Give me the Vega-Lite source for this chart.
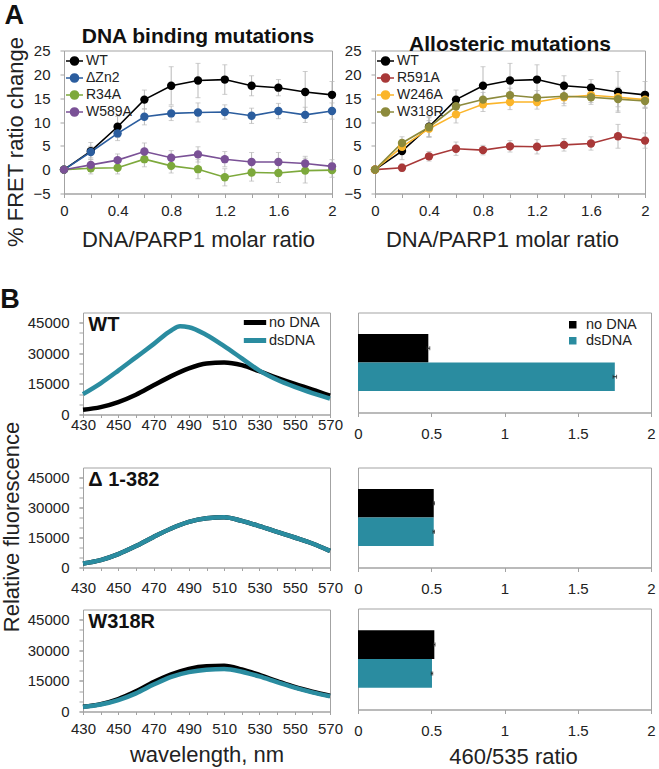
{
  "$schema": "https://vega.github.io/schema/vega-lite/v6.json",
  "padding": {"left": 0, "top": 1.5, "right": 2, "bottom": 2},
  "background": "white",
  "config": {
    "font": "Liberation Sans",
    "view": {"stroke": "#a3a3a3"},
    "axis": {"grid": false, "domainColor": "#a3a3a3", "tickColor": "#a3a3a3", "labelColor": "#222222", "titleColor": "#222222", "labelFontSize": 15, "titleFontSize": 22, "titleFontWeight": "normal", "labelFlush": false, "tickSize": 4},
    "legend": {"labelColor": "#222222", "labelFontSize": 14},
    "title": {"color": "#111111"}
  },
  "datasets": {
    "fretA": [
      {"series": "WT", "ratio": 0, "pct": 0, "err": 0},
      {"series": "WT", "ratio": 0.2, "pct": 3.9, "err": 1.8},
      {"series": "WT", "ratio": 0.4, "pct": 9.0, "err": 2.2},
      {"series": "WT", "ratio": 0.6, "pct": 14.7, "err": 2.0},
      {"series": "WT", "ratio": 0.8, "pct": 17.6, "err": 4.0},
      {"series": "WT", "ratio": 1.0, "pct": 18.7, "err": 3.6},
      {"series": "WT", "ratio": 1.2, "pct": 18.9, "err": 3.1},
      {"series": "WT", "ratio": 1.4, "pct": 17.6, "err": 2.1},
      {"series": "WT", "ratio": 1.6, "pct": 17.2, "err": 1.7},
      {"series": "WT", "ratio": 1.8, "pct": 16.3, "err": 4.3},
      {"series": "WT", "ratio": 2.0, "pct": 15.7, "err": 2.8},
      {"series": "ΔZn2", "ratio": 0, "pct": 0, "err": 0},
      {"series": "ΔZn2", "ratio": 0.2, "pct": 3.7, "err": 1.2},
      {"series": "ΔZn2", "ratio": 0.4, "pct": 7.6, "err": 1.5},
      {"series": "ΔZn2", "ratio": 0.6, "pct": 11.1, "err": 1.7},
      {"series": "ΔZn2", "ratio": 0.8, "pct": 11.8, "err": 1.5},
      {"series": "ΔZn2", "ratio": 1.0, "pct": 12.0, "err": 2.0},
      {"series": "ΔZn2", "ratio": 1.2, "pct": 12.1, "err": 1.5},
      {"series": "ΔZn2", "ratio": 1.4, "pct": 11.3, "err": 1.6},
      {"series": "ΔZn2", "ratio": 1.6, "pct": 12.3, "err": 1.6},
      {"series": "ΔZn2", "ratio": 1.8, "pct": 11.5, "err": 1.6},
      {"series": "ΔZn2", "ratio": 2.0, "pct": 12.3, "err": 1.7},
      {"series": "R34A", "ratio": 0, "pct": 0, "err": 0},
      {"series": "R34A", "ratio": 0.2, "pct": 0.3, "err": 1.2},
      {"series": "R34A", "ratio": 0.4, "pct": 0.4, "err": 1.3},
      {"series": "R34A", "ratio": 0.6, "pct": 2.2, "err": 1.6},
      {"series": "R34A", "ratio": 0.8, "pct": 0.8, "err": 1.5},
      {"series": "R34A", "ratio": 1.0, "pct": 0.1, "err": 2.0},
      {"series": "R34A", "ratio": 1.2, "pct": -1.6, "err": 1.8},
      {"series": "R34A", "ratio": 1.4, "pct": -0.6, "err": 1.8},
      {"series": "R34A", "ratio": 1.6, "pct": -0.7, "err": 2.0},
      {"series": "R34A", "ratio": 1.8, "pct": -0.2, "err": 2.6},
      {"series": "R34A", "ratio": 2.0, "pct": -0.1, "err": 1.5},
      {"series": "W589A", "ratio": 0, "pct": 0, "err": 0},
      {"series": "W589A", "ratio": 0.2, "pct": 1.0, "err": 1.2},
      {"series": "W589A", "ratio": 0.4, "pct": 2.0, "err": 1.3},
      {"series": "W589A", "ratio": 0.6, "pct": 3.8, "err": 1.8},
      {"series": "W589A", "ratio": 0.8, "pct": 2.5, "err": 1.5},
      {"series": "W589A", "ratio": 1.0, "pct": 3.2, "err": 1.6},
      {"series": "W589A", "ratio": 1.2, "pct": 2.2, "err": 1.6},
      {"series": "W589A", "ratio": 1.4, "pct": 1.6, "err": 2.0},
      {"series": "W589A", "ratio": 1.6, "pct": 1.6, "err": 2.0},
      {"series": "W589A", "ratio": 1.8, "pct": 1.3, "err": 1.5},
      {"series": "W589A", "ratio": 2.0, "pct": 0.7, "err": 1.4}
    ],
    "fretB": [
      {"series": "WT", "ratio": 0, "pct": 0, "err": 0},
      {"series": "WT", "ratio": 0.2, "pct": 3.9, "err": 1.8},
      {"series": "WT", "ratio": 0.4, "pct": 9.0, "err": 2.2},
      {"series": "WT", "ratio": 0.6, "pct": 14.7, "err": 2.0},
      {"series": "WT", "ratio": 0.8, "pct": 17.6, "err": 4.0},
      {"series": "WT", "ratio": 1.0, "pct": 18.7, "err": 3.6},
      {"series": "WT", "ratio": 1.2, "pct": 18.9, "err": 3.1},
      {"series": "WT", "ratio": 1.4, "pct": 17.6, "err": 2.1},
      {"series": "WT", "ratio": 1.6, "pct": 17.2, "err": 1.7},
      {"series": "WT", "ratio": 1.8, "pct": 16.3, "err": 4.3},
      {"series": "WT", "ratio": 2.0, "pct": 15.7, "err": 2.8},
      {"series": "R591A", "ratio": 0, "pct": 0, "err": 0},
      {"series": "R591A", "ratio": 0.2, "pct": 0.4, "err": 0.8},
      {"series": "R591A", "ratio": 0.4, "pct": 2.8, "err": 1.0},
      {"series": "R591A", "ratio": 0.6, "pct": 4.4, "err": 1.4},
      {"series": "R591A", "ratio": 0.8, "pct": 4.1, "err": 1.0},
      {"series": "R591A", "ratio": 1.0, "pct": 4.9, "err": 1.2},
      {"series": "R591A", "ratio": 1.2, "pct": 4.8, "err": 1.5},
      {"series": "R591A", "ratio": 1.4, "pct": 5.2, "err": 1.3},
      {"series": "R591A", "ratio": 1.6, "pct": 5.5, "err": 1.4},
      {"series": "R591A", "ratio": 1.8, "pct": 7.0, "err": 2.5},
      {"series": "R591A", "ratio": 2.0, "pct": 6.1, "err": 1.6},
      {"series": "W246A", "ratio": 0, "pct": 0, "err": 0},
      {"series": "W246A", "ratio": 0.2, "pct": 4.8, "err": 1.5},
      {"series": "W246A", "ratio": 0.4, "pct": 8.6, "err": 1.7},
      {"series": "W246A", "ratio": 0.6, "pct": 11.6, "err": 1.8},
      {"series": "W246A", "ratio": 0.8, "pct": 13.7, "err": 1.5},
      {"series": "W246A", "ratio": 1.0, "pct": 14.2, "err": 1.6},
      {"series": "W246A", "ratio": 1.2, "pct": 14.2, "err": 1.5},
      {"series": "W246A", "ratio": 1.4, "pct": 15.2, "err": 1.8},
      {"series": "W246A", "ratio": 1.6, "pct": 15.6, "err": 1.5},
      {"series": "W246A", "ratio": 1.8, "pct": 15.2, "err": 2.0},
      {"series": "W246A", "ratio": 2.0, "pct": 14.7, "err": 1.6},
      {"series": "W318R", "ratio": 0, "pct": 0, "err": 0},
      {"series": "W318R", "ratio": 0.2, "pct": 5.6, "err": 1.3},
      {"series": "W318R", "ratio": 0.4, "pct": 8.9, "err": 2.0},
      {"series": "W318R", "ratio": 0.6, "pct": 13.3, "err": 1.6},
      {"series": "W318R", "ratio": 0.8, "pct": 14.7, "err": 1.5},
      {"series": "W318R", "ratio": 1.0, "pct": 15.6, "err": 1.5},
      {"series": "W318R", "ratio": 1.2, "pct": 15.1, "err": 1.5},
      {"series": "W318R", "ratio": 1.4, "pct": 15.4, "err": 1.5},
      {"series": "W318R", "ratio": 1.6, "pct": 15.2, "err": 1.5},
      {"series": "W318R", "ratio": 1.8, "pct": 14.8, "err": 2.5},
      {"series": "W318R", "ratio": 2.0, "pct": 14.4, "err": 1.5}
    ],
    "spec": [
      {"panel": "WT", "cond": "no DNA", "nm": 430, "fl": 2300},
      {"panel": "WT", "cond": "no DNA", "nm": 440, "fl": 3600},
      {"panel": "WT", "cond": "no DNA", "nm": 450, "fl": 6100},
      {"panel": "WT", "cond": "no DNA", "nm": 460, "fl": 9700},
      {"panel": "WT", "cond": "no DNA", "nm": 470, "fl": 14300},
      {"panel": "WT", "cond": "no DNA", "nm": 480, "fl": 18800},
      {"panel": "WT", "cond": "no DNA", "nm": 490, "fl": 22600},
      {"panel": "WT", "cond": "no DNA", "nm": 500, "fl": 25000},
      {"panel": "WT", "cond": "no DNA", "nm": 510, "fl": 25500},
      {"panel": "WT", "cond": "no DNA", "nm": 520, "fl": 24200},
      {"panel": "WT", "cond": "no DNA", "nm": 530, "fl": 21200},
      {"panel": "WT", "cond": "no DNA", "nm": 540, "fl": 18000},
      {"panel": "WT", "cond": "no DNA", "nm": 550, "fl": 15000},
      {"panel": "WT", "cond": "no DNA", "nm": 560, "fl": 12200},
      {"panel": "WT", "cond": "no DNA", "nm": 570, "fl": 9200},
      {"panel": "WT", "cond": "dsDNA", "nm": 430, "fl": 10000},
      {"panel": "WT", "cond": "dsDNA", "nm": 440, "fl": 15300},
      {"panel": "WT", "cond": "dsDNA", "nm": 450, "fl": 21500},
      {"panel": "WT", "cond": "dsDNA", "nm": 460, "fl": 28000},
      {"panel": "WT", "cond": "dsDNA", "nm": 470, "fl": 34500},
      {"panel": "WT", "cond": "dsDNA", "nm": 480, "fl": 41200},
      {"panel": "WT", "cond": "dsDNA", "nm": 485, "fl": 43200},
      {"panel": "WT", "cond": "dsDNA", "nm": 490, "fl": 42800},
      {"panel": "WT", "cond": "dsDNA", "nm": 500, "fl": 39000},
      {"panel": "WT", "cond": "dsDNA", "nm": 510, "fl": 33500},
      {"panel": "WT", "cond": "dsDNA", "nm": 520, "fl": 27500},
      {"panel": "WT", "cond": "dsDNA", "nm": 530, "fl": 21500},
      {"panel": "WT", "cond": "dsDNA", "nm": 540, "fl": 17000},
      {"panel": "WT", "cond": "dsDNA", "nm": 550, "fl": 13500},
      {"panel": "WT", "cond": "dsDNA", "nm": 560, "fl": 10500},
      {"panel": "WT", "cond": "dsDNA", "nm": 570, "fl": 7800},
      {"panel": "D", "cond": "no DNA", "nm": 430, "fl": 2000},
      {"panel": "D", "cond": "no DNA", "nm": 440, "fl": 3700},
      {"panel": "D", "cond": "no DNA", "nm": 450, "fl": 6700},
      {"panel": "D", "cond": "no DNA", "nm": 460, "fl": 10700},
      {"panel": "D", "cond": "no DNA", "nm": 470, "fl": 15300},
      {"panel": "D", "cond": "no DNA", "nm": 480, "fl": 19500},
      {"panel": "D", "cond": "no DNA", "nm": 490, "fl": 22800},
      {"panel": "D", "cond": "no DNA", "nm": 500, "fl": 24600},
      {"panel": "D", "cond": "no DNA", "nm": 510, "fl": 25100},
      {"panel": "D", "cond": "no DNA", "nm": 520, "fl": 23300},
      {"panel": "D", "cond": "no DNA", "nm": 530, "fl": 20700},
      {"panel": "D", "cond": "no DNA", "nm": 540, "fl": 17800},
      {"panel": "D", "cond": "no DNA", "nm": 550, "fl": 15000},
      {"panel": "D", "cond": "no DNA", "nm": 560, "fl": 12000},
      {"panel": "D", "cond": "no DNA", "nm": 570, "fl": 8300},
      {"panel": "D", "cond": "dsDNA", "nm": 430, "fl": 2000},
      {"panel": "D", "cond": "dsDNA", "nm": 440, "fl": 3700},
      {"panel": "D", "cond": "dsDNA", "nm": 450, "fl": 6700},
      {"panel": "D", "cond": "dsDNA", "nm": 460, "fl": 10700},
      {"panel": "D", "cond": "dsDNA", "nm": 470, "fl": 15300},
      {"panel": "D", "cond": "dsDNA", "nm": 480, "fl": 19500},
      {"panel": "D", "cond": "dsDNA", "nm": 490, "fl": 22800},
      {"panel": "D", "cond": "dsDNA", "nm": 500, "fl": 24600},
      {"panel": "D", "cond": "dsDNA", "nm": 510, "fl": 25100},
      {"panel": "D", "cond": "dsDNA", "nm": 520, "fl": 23300},
      {"panel": "D", "cond": "dsDNA", "nm": 530, "fl": 20700},
      {"panel": "D", "cond": "dsDNA", "nm": 540, "fl": 17800},
      {"panel": "D", "cond": "dsDNA", "nm": 550, "fl": 15000},
      {"panel": "D", "cond": "dsDNA", "nm": 560, "fl": 12000},
      {"panel": "D", "cond": "dsDNA", "nm": 570, "fl": 8300},
      {"panel": "W318R", "cond": "no DNA", "nm": 430, "fl": 2300},
      {"panel": "W318R", "cond": "no DNA", "nm": 440, "fl": 3600},
      {"panel": "W318R", "cond": "no DNA", "nm": 450, "fl": 6100},
      {"panel": "W318R", "cond": "no DNA", "nm": 460, "fl": 9900},
      {"panel": "W318R", "cond": "no DNA", "nm": 470, "fl": 14400},
      {"panel": "W318R", "cond": "no DNA", "nm": 480, "fl": 18200},
      {"panel": "W318R", "cond": "no DNA", "nm": 490, "fl": 20900},
      {"panel": "W318R", "cond": "no DNA", "nm": 500, "fl": 22200},
      {"panel": "W318R", "cond": "no DNA", "nm": 510, "fl": 22400},
      {"panel": "W318R", "cond": "no DNA", "nm": 520, "fl": 20600},
      {"panel": "W318R", "cond": "no DNA", "nm": 530, "fl": 17900},
      {"panel": "W318R", "cond": "no DNA", "nm": 540, "fl": 14900},
      {"panel": "W318R", "cond": "no DNA", "nm": 550, "fl": 12000},
      {"panel": "W318R", "cond": "no DNA", "nm": 560, "fl": 9700},
      {"panel": "W318R", "cond": "no DNA", "nm": 570, "fl": 7700},
      {"panel": "W318R", "cond": "dsDNA", "nm": 430, "fl": 2200},
      {"panel": "W318R", "cond": "dsDNA", "nm": 440, "fl": 3400},
      {"panel": "W318R", "cond": "dsDNA", "nm": 450, "fl": 5600},
      {"panel": "W318R", "cond": "dsDNA", "nm": 460, "fl": 8900},
      {"panel": "W318R", "cond": "dsDNA", "nm": 470, "fl": 13200},
      {"panel": "W318R", "cond": "dsDNA", "nm": 480, "fl": 17000},
      {"panel": "W318R", "cond": "dsDNA", "nm": 490, "fl": 19300},
      {"panel": "W318R", "cond": "dsDNA", "nm": 500, "fl": 20500},
      {"panel": "W318R", "cond": "dsDNA", "nm": 510, "fl": 20800},
      {"panel": "W318R", "cond": "dsDNA", "nm": 520, "fl": 19500},
      {"panel": "W318R", "cond": "dsDNA", "nm": 530, "fl": 17200},
      {"panel": "W318R", "cond": "dsDNA", "nm": 540, "fl": 14400},
      {"panel": "W318R", "cond": "dsDNA", "nm": 550, "fl": 11700},
      {"panel": "W318R", "cond": "dsDNA", "nm": 560, "fl": 9400},
      {"panel": "W318R", "cond": "dsDNA", "nm": 570, "fl": 7500}
    ],
    "ratio": [
      {"panel": "WT", "cond": "no DNA", "val": 0.48, "err": 0.01},
      {"panel": "WT", "cond": "dsDNA", "val": 1.753, "err": 0.012},
      {"panel": "D", "cond": "no DNA", "val": 0.517, "err": 0.005},
      {"panel": "D", "cond": "dsDNA", "val": 0.517, "err": 0.005},
      {"panel": "W318R", "cond": "no DNA", "val": 0.521, "err": 0.005},
      {"panel": "W318R", "cond": "dsDNA", "val": 0.505, "err": 0.005}
    ]
  },
  "bounds": "flush",
  "spacing": 262,
  "resolve": {"scale": {"x": "independent", "y": "independent", "color": "independent"}, "legend": {"color": "independent"}},
  "vconcat": [
    {
      "title": {"text": "A", "anchor": "start", "frame": "bounds", "fontSize": 27, "fontWeight": "bold", "baseline": "alphabetic", "offset": -25.5, "color": "#111111"},
      "bounds": "flush",
      "spacing": 43,
      "resolve": {"scale": {"x": "independent", "y": "independent", "color": "independent"}, "legend": {"color": "independent"}},
      "hconcat": [
        {
          "width": 268, "height": 143,
          "title": {"text": "DNA binding mutations", "frame": "group", "anchor": "middle", "baseline": "alphabetic", "offset": -28, "fontSize": 21, "fontWeight": "bold"},
          "data": {"name": "fretA"},
          "encoding": {
            "x": {"field": "ratio", "type": "quantitative", "scale": {"domain": [0, 2], "nice": false, "zero": false},
                  "axis": {"values": [0, 0.2, 0.4, 0.6, 0.8, 1, 1.2, 1.4, 1.6, 1.8, 2], "labelExpr": "round(datum.value*10) % 4 == 0 ? format(datum.value, '~g') : ''", "title": "DNA/PARP1 molar ratio", "labelPadding": 6, "titlePadding": 11}},
            "y": {"field": "pct", "type": "quantitative", "scale": {"domain": [-5, 25], "nice": false, "zero": false},
                  "axis": {"values": [-5, 0, 5, 10, 15, 20, 25], "title": "% FRET ratio change", "labelPadding": 10, "titlePadding": 5, "titleY": 91}}
          },
          "layer": [
            {"mark": {"type": "errorbar", "ticks": true, "size": 5, "thickness": 1, "color": "#b9b9b9"}, "encoding": {"yError": {"field": "err"}}},
            {"mark": {"type": "line", "strokeWidth": 1.6},
             "encoding": {"color": {"field": "series", "type": "nominal", "sort": null,
                      "scale": {"domain": ["WT", "ΔZn2", "R34A", "W589A"], "range": ["#000000", "#2b5d9e", "#7da93c", "#7a5196"]},
                      "legend": {"orient": "top-left", "title": null, "offset": 1, "padding": 0, "symbolType": "M-1,0H1M0.47,0A0.47,0.47,0,1,1,-0.47,0A0.47,0.47,0,1,1,0.47,0Z", "symbolSize": 289, "symbolStrokeWidth": 1.6, "labelFontSize": 14, "labelOffset": 2, "rowPadding": -5.3}}}},
            {"mark": {"type": "point", "filled": true, "size": 70, "opacity": 1},
             "encoding": {"color": {"field": "series", "type": "nominal", "sort": null,
                      "scale": {"domain": ["WT", "ΔZn2", "R34A", "W589A"], "range": ["#000000", "#2b5d9e", "#7da93c", "#7a5196"]}}}}
          ]
        },
        {
          "width": 270, "height": 143,
          "title": {"text": "Allosteric mutations", "frame": "group", "anchor": "middle", "baseline": "alphabetic", "offset": -28, "fontSize": 21, "fontWeight": "bold"},
          "data": {"name": "fretB"},
          "encoding": {
            "x": {"field": "ratio", "type": "quantitative", "scale": {"domain": [0, 2], "nice": false, "zero": false},
                  "axis": {"values": [0, 0.2, 0.4, 0.6, 0.8, 1, 1.2, 1.4, 1.6, 1.8, 2], "labelExpr": "round(datum.value*10) % 4 == 0 ? format(datum.value, '~g') : ''", "title": "DNA/PARP1 molar ratio", "labelPadding": 6, "titlePadding": 11, "titleX": 127}},
            "y": {"field": "pct", "type": "quantitative", "scale": {"domain": [-5, 25], "nice": false, "zero": false},
                  "axis": {"values": [-5, 0, 5, 10, 15, 20, 25], "title": null, "labelPadding": 10}}
          },
          "layer": [
            {"mark": {"type": "errorbar", "ticks": true, "size": 5, "thickness": 1, "color": "#b9b9b9"}, "encoding": {"yError": {"field": "err"}}},
            {"mark": {"type": "line", "strokeWidth": 1.6},
             "encoding": {"color": {"field": "series", "type": "nominal", "sort": null,
                      "scale": {"domain": ["WT", "R591A", "W246A", "W318R"], "range": ["#000000", "#a83838", "#fbb52a", "#8c8a3c"]},
                      "legend": {"orient": "top-left", "title": null, "offset": 1, "padding": 0, "symbolType": "M-1,0H1M0.47,0A0.47,0.47,0,1,1,-0.47,0A0.47,0.47,0,1,1,0.47,0Z", "symbolSize": 289, "symbolStrokeWidth": 1.6, "labelFontSize": 14, "labelOffset": 2, "rowPadding": -5.3}}}},
            {"mark": {"type": "point", "filled": true, "size": 70, "opacity": 1},
             "encoding": {"color": {"field": "series", "type": "nominal", "sort": null,
                      "scale": {"domain": ["WT", "R591A", "W246A", "W318R"], "range": ["#000000", "#a83838", "#fbb52a", "#8c8a3c"]}}}}
          ]
        }
      ]
    },
    {
      "title": {"text": "B", "anchor": "start", "frame": "bounds", "fontSize": 27, "fontWeight": "bold", "baseline": "alphabetic", "offset": -23, "color": "#111111"},
      "bounds": "flush",
      "spacing": 18,
      "resolve": {"scale": {"x": "independent", "y": "independent", "color": "independent"}, "legend": {"color": "independent"}},
      "hconcat": [
        {"width": 1, "height": 1, "view": {"stroke": null}, "data": {"values": []}, "mark": "point"},
        {
          "bounds": "flush",
          "spacing": 275,
          "resolve": {"scale": {"x": "independent", "y": "independent", "color": "independent"}, "legend": {"color": "independent"}},
          "hconcat": [
            {
              "bounds": "flush",
              "spacing": 53,
              "resolve": {"scale": {"x": "independent", "y": "independent", "color": "independent"}, "legend": {"color": "independent"}},
              "vconcat": [
                {
                  "width": 247, "height": 102,
                  "resolve": {"axis": {"x": "independent", "y": "independent"}},
                  "layer": [
                    {
                      "data": {"name": "spec"},
                      "transform": [{"filter": "datum.panel == 'WT'"}],
                      "mark": {"type": "point", "opacity": 0},
                      "encoding": {
                        "x": {"field": "nm", "type": "quantitative", "scale": {"domain": [430, 570], "nice": false, "zero": false},
                              "axis": {"orient": "bottom", "values": [430, 440, 450, 460, 470, 480, 490, 500, 510, 520, 530, 540, 550, 560, 570], "labels": false, "domain": false, "tickSize": 3, "title": null}},
                        "y": {"field": "fl", "type": "quantitative", "scale": {"domain": [0, 50000], "nice": false},
                              "axis": {"orient": "left", "values": [0, 5000, 10000, 15000, 20000, 25000, 30000, 35000, 40000, 45000], "labels": false, "domain": false, "tickSize": 4, "title": null}}
                      }
                    },
                    {
                      "data": {"name": "spec"},
                      "transform": [{"filter": "datum.panel == 'WT'"}],
                      "mark": {"type": "line", "strokeWidth": 4.5, "interpolate": "monotone"},
                      "encoding": {
                        "x": {"field": "nm", "type": "quantitative", "scale": {"domain": [430, 570], "nice": false, "zero": false},
                              "axis": {"orient": "bottom", "values": [430, 450, 470, 490, 510, 530, 550, 570], "format": "d", "title": null, "tickSize": 3, "labelPadding": 0}},
                        "y": {"field": "fl", "type": "quantitative", "scale": {"domain": [0, 50000], "nice": false},
                              "axis": {"orient": "left", "values": [0, 15000, 30000, 45000], "format": "d", "title": null, "labelPadding": 10}},
                        "color": {"field": "cond", "type": "nominal", "sort": null,
                                  "scale": {"domain": ["no DNA", "dsDNA"], "range": ["#000000", "#2a8ca0"]},
                                  "legend": {"orient": "none", "legendX": 158, "legendY": 1, "title": null, "padding": 0, "symbolType": "M-1,0H1", "symbolSize": 500, "symbolStrokeWidth": 5, "labelFontSize": 14.5, "labelOffset": 0, "clipHeight": 18, "rowPadding": 0}}
                      }
                    },
                    {
                      "data": {"values": [{"label": "WT"}]},
                      "mark": {"type": "text", "fontSize": 20, "fontWeight": "bold", "align": "left", "baseline": "alphabetic", "color": "#111111"},
                      "encoding": {"x": {"datum": 433, "axis": null}, "y": {"datum": 41000, "axis": null}, "text": {"field": "label"}}
                    }
                  ]
                },
                {
                  "bounds": "flush",
                  "spacing": 42,
                  "resolve": {"scale": {"x": "independent", "y": "independent", "color": "independent"}, "legend": {"color": "independent"}},
                  "vconcat": [
                    {
                      "width": 247, "height": 100,
                      "resolve": {"axis": {"x": "independent", "y": "independent"}},
                      "layer": [
                        {
                          "data": {"name": "spec"},
                          "transform": [{"filter": "datum.panel == 'D'"}],
                          "mark": {"type": "point", "opacity": 0},
                          "encoding": {
                            "x": {"field": "nm", "type": "quantitative", "scale": {"domain": [430, 570], "nice": false, "zero": false},
                                  "axis": {"orient": "bottom", "values": [430, 440, 450, 460, 470, 480, 490, 500, 510, 520, 530, 540, 550, 560, 570], "labels": false, "domain": false, "tickSize": 3, "title": null}},
                            "y": {"field": "fl", "type": "quantitative", "scale": {"domain": [0, 50000], "nice": false},
                                  "axis": {"orient": "left", "values": [0, 5000, 10000, 15000, 20000, 25000, 30000, 35000, 40000, 45000], "labels": false, "domain": false, "tickSize": 4, "title": null}}
                          }
                        },
                        {
                          "data": {"name": "spec"},
                          "transform": [{"filter": "datum.panel == 'D'"}],
                          "mark": {"type": "line", "strokeWidth": 4.5, "interpolate": "monotone"},
                          "encoding": {
                            "x": {"field": "nm", "type": "quantitative", "scale": {"domain": [430, 570], "nice": false, "zero": false},
                                  "axis": {"orient": "bottom", "values": [430, 450, 470, 490, 510, 530, 550, 570], "format": "d", "title": null, "tickSize": 3, "labelPadding": 9.7}},
                            "y": {"field": "fl", "type": "quantitative", "scale": {"domain": [0, 50000], "nice": false},
                                  "axis": {"orient": "left", "values": [0, 15000, 30000, 45000], "format": "d", "title": "Relative fluorescence", "titleY": 59, "titlePadding": 3.5, "labelPadding": 10}},
                            "color": {"field": "cond", "type": "nominal", "sort": null,
                                      "scale": {"domain": ["no DNA", "dsDNA"], "range": ["#000000", "#2a8ca0"]},
                                      "legend": null}
                          }
                        },
                        {
                          "data": {"values": [{"label": "Δ 1-382"}]},
                          "mark": {"type": "text", "fontSize": 20, "fontWeight": "bold", "align": "left", "baseline": "alphabetic", "color": "#111111"},
                          "encoding": {"x": {"datum": 433, "axis": null}, "y": {"datum": 41000, "axis": null}, "text": {"field": "label"}}
                        }
                      ]
                    },
                    {
                      "width": 247, "height": 102,
                      "resolve": {"axis": {"x": "independent", "y": "independent"}},
                      "layer": [
                        {
                          "data": {"name": "spec"},
                          "transform": [{"filter": "datum.panel == 'W318R'"}],
                          "mark": {"type": "point", "opacity": 0},
                          "encoding": {
                            "x": {"field": "nm", "type": "quantitative", "scale": {"domain": [430, 570], "nice": false, "zero": false},
                                  "axis": {"orient": "bottom", "values": [430, 440, 450, 460, 470, 480, 490, 500, 510, 520, 530, 540, 550, 560, 570], "labels": false, "domain": false, "tickSize": 3, "title": null}},
                            "y": {"field": "fl", "type": "quantitative", "scale": {"domain": [0, 50000], "nice": false},
                                  "axis": {"orient": "left", "values": [0, 5000, 10000, 15000, 20000, 25000, 30000, 35000, 40000, 45000], "labels": false, "domain": false, "tickSize": 4, "title": null}}
                          }
                        },
                        {
                          "data": {"name": "spec"},
                          "transform": [{"filter": "datum.panel == 'W318R'"}],
                          "mark": {"type": "line", "strokeWidth": 4.5, "interpolate": "monotone"},
                          "encoding": {
                            "x": {"field": "nm", "type": "quantitative", "scale": {"domain": [430, 570], "nice": false, "zero": false},
                                  "axis": {"orient": "bottom", "values": [430, 450, 470, 490, 510, 530, 550, 570], "format": "d", "title": "wavelength, nm", "titlePadding": 8, "tickSize": 3, "labelPadding": 6.5}},
                            "y": {"field": "fl", "type": "quantitative", "scale": {"domain": [0, 50000], "nice": false},
                                  "axis": {"orient": "left", "values": [0, 15000, 30000, 45000], "format": "d", "title": null, "labelPadding": 10}},
                            "color": {"field": "cond", "type": "nominal", "sort": null,
                                      "scale": {"domain": ["no DNA", "dsDNA"], "range": ["#000000", "#2a8ca0"]},
                                      "legend": null}
                          }
                        },
                        {
                          "data": {"values": [{"label": "W318R"}]},
                          "mark": {"type": "text", "fontSize": 20, "fontWeight": "bold", "align": "left", "baseline": "alphabetic", "color": "#111111"},
                          "encoding": {"x": {"datum": 433, "axis": null}, "y": {"datum": 41000, "axis": null}, "text": {"field": "label"}}
                        }
                      ]
                    }
                  ]
                }
              ]
            },
            {
              "bounds": "flush",
              "spacing": 55,
              "resolve": {"scale": {"x": "independent", "y": "independent", "color": "independent"}, "legend": {"color": "independent"}},
              "vconcat": [
                {
                  "width": 293, "height": 100,
                  "data": {"name": "ratio"},
                  "transform": [{"filter": "datum.panel == 'WT'"}],
                  "encoding": {
                    "y": {"field": "cond", "type": "nominal", "sort": null, "scale": {"domain": ["no DNA", "dsDNA"], "paddingInner": 0, "paddingOuter": 0.755}, "axis": {"labels": false, "ticks": false, "title": null}},
                    "x": {"field": "val", "type": "quantitative", "scale": {"domain": [0, 2], "nice": false}, "axis": {"values": [0, 0.5, 1, 1.5, 2], "format": "~g", "title": null, "labelPadding": 9.5}}
                  },
                  "layer": [
                    {"mark": {"type": "bar"},
                     "encoding": {
                       "color": {"field": "cond", "type": "nominal", "sort": null, "scale": {"domain": ["no DNA", "dsDNA"], "range": ["#000000", "#2a8ca0"]},
                                 "legend": {"orient": "none", "legendX": 207.5, "legendY": 5, "title": null, "padding": 0, "symbolType": "square", "symbolSize": 56, "symbolStrokeWidth": 0, "labelFontSize": 14.5, "labelOffset": 6, "rowPadding": 1}}
                     }},
                    {"mark": {"type": "errorbar", "ticks": true, "size": 4, "color": "#222222"},
                     "encoding": {"xError": {"field": "err"}}}
                  ]
                },
                {
                  "bounds": "flush",
                  "spacing": 41,
                  "resolve": {"scale": {"x": "independent", "y": "independent", "color": "independent"}, "legend": {"color": "independent"}},
                  "vconcat": [
                    {
                      "width": 293, "height": 100,
                      "data": {"name": "ratio"},
                      "transform": [{"filter": "datum.panel == 'D'"}],
                      "encoding": {
                        "y": {"field": "cond", "type": "nominal", "sort": null, "scale": {"domain": ["no DNA", "dsDNA"], "paddingInner": 0, "paddingOuter": 0.755}, "axis": {"labels": false, "ticks": false, "title": null}},
                        "x": {"field": "val", "type": "quantitative", "scale": {"domain": [0, 2], "nice": false}, "axis": {"values": [0, 0.5, 1, 1.5, 2], "format": "~g", "title": null, "labelPadding": 9.5}}
                      },
                      "layer": [
                        {"mark": {"type": "bar"},
                         "encoding": {
                           "color": {"field": "cond", "type": "nominal", "sort": null, "scale": {"domain": ["no DNA", "dsDNA"], "range": ["#000000", "#2a8ca0"]}, "legend": null}
                         }},
                        {"mark": {"type": "errorbar", "ticks": true, "size": 4, "color": "#222222"},
                         "encoding": {"xError": {"field": "err"}}}
                      ]
                    },
                    {
                      "width": 293, "height": 101,
                      "data": {"name": "ratio"},
                      "transform": [{"filter": "datum.panel == 'W318R'"}],
                      "encoding": {
                        "y": {"field": "cond", "type": "nominal", "sort": null, "scale": {"domain": ["no DNA", "dsDNA"], "paddingInner": 0, "paddingOuter": 0.755}, "axis": {"labels": false, "ticks": false, "title": null}},
                        "x": {"field": "val", "type": "quantitative", "scale": {"domain": [0, 2], "nice": false}, "axis": {"values": [0, 0.5, 1, 1.5, 2], "format": "~g", "title": "460/535 ratio", "titlePadding": 8, "titleX": 155, "labelPadding": 9.5}}
                      },
                      "layer": [
                        {"mark": {"type": "bar"},
                         "encoding": {
                           "color": {"field": "cond", "type": "nominal", "sort": null, "scale": {"domain": ["no DNA", "dsDNA"], "range": ["#000000", "#2a8ca0"]}, "legend": null}
                         }},
                        {"mark": {"type": "errorbar", "ticks": true, "size": 4, "color": "#222222"},
                         "encoding": {"xError": {"field": "err"}}}
                      ]
                    }
                  ]
                }
              ]
            }
          ]
        }
      ]
    }
  ]
}
